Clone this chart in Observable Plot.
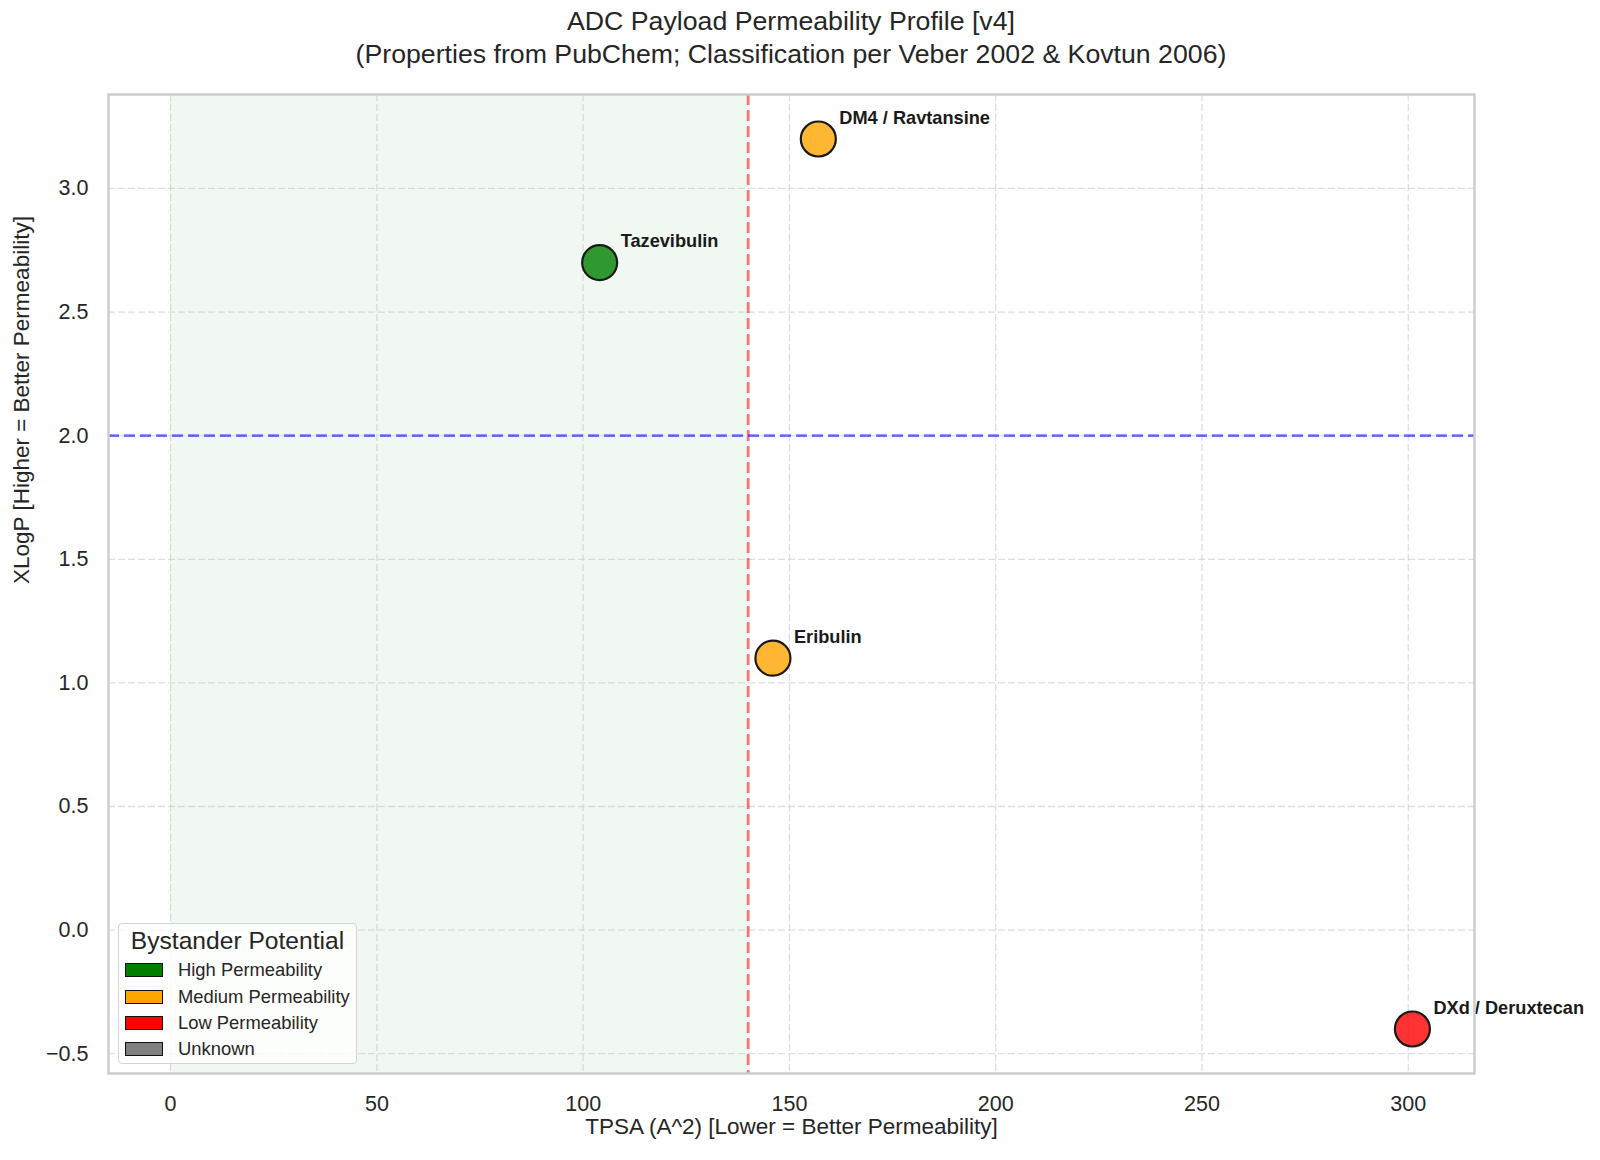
<!DOCTYPE html>
<html><head><meta charset="utf-8">
<script src="https://cdn.jsdelivr.net/npm/d3@7"></script>
<script src="https://cdn.jsdelivr.net/npm/@observablehq/plot@0.6"></script>
<style>
html,body{margin:0;padding:0;background:#fff;}
#wrap{position:relative;width:1600px;height:1160px;font-family:"Liberation Sans",Arial,sans-serif;color:#262626;}
#chart{position:absolute;left:0;top:0;}
.title{position:absolute;left:108px;width:1366px;text-align:center;font-size:26.7px;line-height:26.7px;white-space:nowrap;}
#legend{position:absolute;left:118px;top:923px;width:239px;height:141px;box-sizing:border-box;border:1px solid #d4d4d4;border-radius:4px;background:rgba(255,255,255,0.8);}
#legend .lt{position:absolute;left:0;width:100%;top:5px;text-align:center;font-size:24.6px;line-height:24.6px;}
#legend .row{position:absolute;left:6px;height:20px;display:flex;align-items:center;font-size:18.4px;}
#legend .sw{width:38px;height:14px;box-sizing:border-box;border:1.6px solid #111;margin-right:15px;}
</style></head><body>
<div id="wrap">
<div id="chart"></div>
<div class="title" style="top:8px">ADC Payload Permeability Profile [v4]</div>
<div class="title" style="top:41px">(Properties from PubChem; Classification per Veber 2002 &amp; Kovtun 2006)</div>
<div id="legend"></div>
</div>
<script>
const payloadNames = ["Tazevibulin", "DM4 / Ravtansine", "Eribulin", "DXd / Deruxtecan"];
const tpsaValues = [104, 157, 146, 301];
const xlogpValues = [2.7, 3.2, 1.1, -0.4];
const permeabilityClasses = ["High Permeability", "Medium Permeability", "Medium Permeability", "Low Permeability"];
const legendTitle = "Bystander Potential";
const legendCategories = ["High Permeability", "Medium Permeability", "Low Permeability", "Unknown"];
const legendColors = ["green", "orange", "red", "gray"];
const xTicks = [0, 50, 100, 150, 200, 250, 300];
const yTicks = [-0.5, 0, 0.5, 1.0, 1.5, 2.0, 2.5, 3.0];
const tpsaThreshold = [140];
const xlogpThreshold = [2.0];
const favourableTpsaZone = [0, 140];
const xLabel = "TPSA (A^2) [Lower = Better Permeability]";
const yLabel = "XLogP [Higher = Better Permeability]";

const data = payloadNames.map((name, i) => ({
  name, tpsa: tpsaValues[i], xlogp: xlogpValues[i], cls: permeabilityClasses[i]
}));
const zone = [{x1: favourableTpsaZone[0], x2: favourableTpsaZone[1]}];

const xMin = Math.min(favourableTpsaZone[0], ...tpsaValues), xMax = Math.max(...tpsaValues);
const xPad = (xMax - xMin) * 0.05;
const yMin = Math.min(...xlogpValues), yMax = Math.max(...xlogpValues);
const yPad = (yMax - yMin) * 0.05;

const gridStyle = {stroke: "#c8c8c8", strokeOpacity: 0.6, strokeWidth: 1.3, strokeDasharray: "7,3"};

const chart = Plot.plot({
  width: 1600, height: 1160,
  marginLeft: 108, marginRight: 126, marginTop: 94, marginBottom: 87,
  style: {fontFamily: "'Liberation Sans', Arial, sans-serif", fontSize: "21.5px", color: "#262626", background: "transparent"},
  x: {domain: [xMin - xPad, xMax + xPad]},
  y: {domain: [yMin - yPad, yMax + yPad]},
  color: {domain: legendCategories, range: legendColors},
  marks: [
    Plot.rect(zone, {x1: "x1", x2: "x2", fill: "green", fillOpacity: 0.055}),
    Plot.gridX(xTicks, gridStyle),
    Plot.gridY(yTicks, gridStyle),
    Plot.ruleX(tpsaThreshold, {stroke: "red", strokeOpacity: 0.55, strokeWidth: 2.8, strokeDasharray: "11,5"}),
    Plot.ruleY(xlogpThreshold, {stroke: "blue", strokeOpacity: 0.55, strokeWidth: 2.8, strokeDasharray: "11,5"}),
    Plot.axisX(xTicks, {tickSize: 0, tickPadding: 22, label: null, fontSize: 21.5}),
    Plot.axisY(yTicks, {tickSize: 0, tickPadding: 20, label: null, tickFormat: d3.format(".1f"), fontSize: 21.5}),
    Plot.text([xLabel], {text: d => d, frameAnchor: "bottom", dy: 60, fontSize: 22.5, fill: "#262626"}),
    Plot.text([yLabel], {text: d => d, frameAnchor: "left", dx: -87, rotate: -90, fontSize: 22.5, fill: "#262626"}),
    Plot.dot(data, {x: "tpsa", y: "xlogp", fill: "cls", fillOpacity: 0.8, stroke: "#1a1a1a", strokeWidth: 2.2, r: 17.5}),
    Plot.text(data, {x: "tpsa", y: "xlogp", text: "name", dx: 21, dy: -21, textAnchor: "start", fontWeight: "bold", fontSize: 18.2, fill: "#1a1a1a"}),
    Plot.frame({stroke: "#cccccc", strokeWidth: 2.4})
  ]
});
document.getElementById("chart").appendChild(chart);

const legend = document.getElementById("legend");
const lt = document.createElement("div");
lt.className = "lt"; lt.textContent = legendTitle;
legend.appendChild(lt);
const rowCenters = [46, 73, 99, 125];
legendCategories.forEach((c, i) => {
  const row = document.createElement("div");
  row.className = "row";
  row.style.top = (rowCenters[i] - 10) + "px";
  const sw = document.createElement("div");
  sw.className = "sw"; sw.style.background = legendColors[i];
  const tx = document.createElement("span");
  tx.textContent = c;
  row.appendChild(sw); row.appendChild(tx);
  legend.appendChild(row);
});
</script>
</body></html>
